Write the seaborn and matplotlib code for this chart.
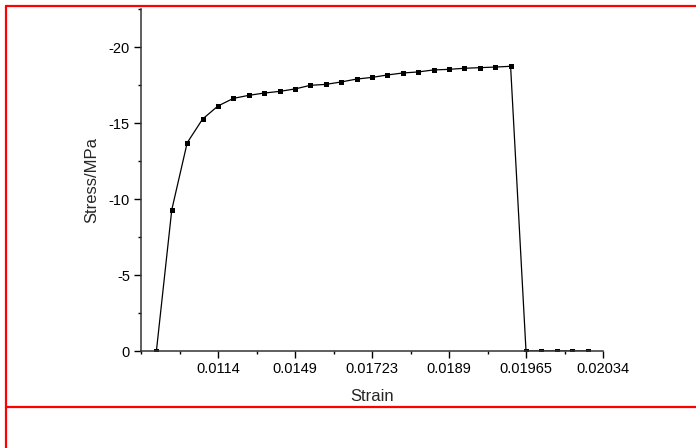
import numpy as np
import pandas as pd
import matplotlib
matplotlib.use("Agg")
import matplotlib.pyplot as plt
import seaborn as sns
from matplotlib.ticker import MultipleLocator, FixedLocator, FixedFormatter
from matplotlib.lines import Line2D

# point index along the strain axis (ticks are labelled with strain values)
point_index = list(range(1, 30))
stress = [0.0, -9.3, -13.7, -15.26, -16.12, -16.62, -16.82, -16.97, -17.08, -17.24,
          -17.48, -17.54, -17.70, -17.89, -18.0, -18.16, -18.29, -18.36, -18.49,
          -18.53, -18.60, -18.64, -18.68, -18.73, 0.0, 0.0, 0.0, 0.0, 0.0]
tick_index = [5, 10, 15, 20, 25, 30]
tick_labels = ["0.0114", "0.0149", "0.01723", "0.0189", "0.01965", "0.02034"]

df = pd.DataFrame({"idx": point_index, "stress": stress})

sns.set_style("ticks")
plt.rcParams["font.family"] = ["Liberation Sans", "DejaVu Sans"]
plt.rcParams["axes.unicode_minus"] = False

fig = plt.figure(figsize=(6.96, 4.48), dpi=100)
ax = fig.add_axes([141 / 696, 1 - 351 / 448, 462 / 696, 342 / 448])

sns.lineplot(data=df, x="idx", y="stress", ax=ax, color="black", linewidth=0.9,
             marker="s", markersize=3.6, markeredgewidth=0, sort=False)

ax.set_xlim(0, 30)
ax.set_ylim(0, -22.5)

ax.xaxis.set_major_locator(FixedLocator(tick_index))
ax.xaxis.set_major_formatter(FixedFormatter(tick_labels))
ax.xaxis.set_minor_locator(MultipleLocator(2.5))
ax.yaxis.set_major_locator(MultipleLocator(5))
ax.yaxis.set_minor_locator(MultipleLocator(2.5))

ax.tick_params(which="major", direction="out", length=5, width=1, labelsize=10.5,
               pad=3, color="black", labelcolor="black")
ax.tick_params(which="minor", direction="out", length=2.5, width=1, color="black")

for side in ["top", "right"]:
    ax.spines[side].set_visible(False)
for side in ["left", "bottom"]:
    ax.spines[side].set_color("#333333")
    ax.spines[side].set_linewidth(1.1)

ax.set_xlabel("Strain", fontsize=12, labelpad=9)
ax.set_ylabel("Stress/MPa", fontsize=12, labelpad=7)

# red frame lines around the figure area
red_lines = [
    ([6 / 696, 1.0], [1 - 6 / 448, 1 - 6 / 448]),
    ([6 / 696, 6 / 696], [0.0, 1 - 6 / 448]),
    ([6 / 696, 1.0], [1 - 407 / 448, 1 - 407 / 448]),
]
for xs, ys in red_lines:
    fig.add_artist(Line2D(xs, ys, color="red", linewidth=1.6, transform=fig.transFigure))

fig.savefig("out.png", dpi=100)
